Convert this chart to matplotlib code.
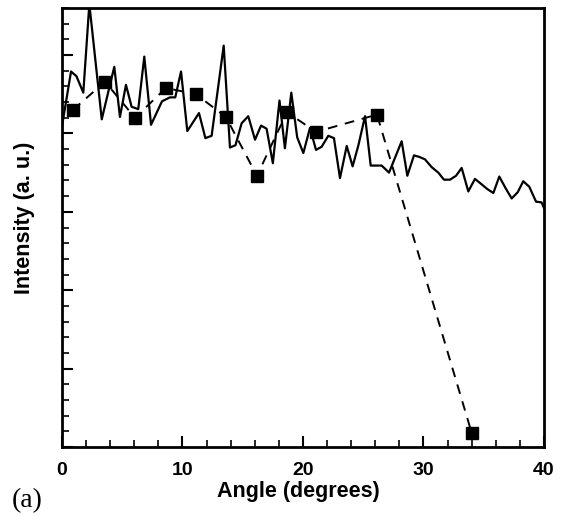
import matplotlib.pyplot as plt
from matplotlib.ticker import MultipleLocator, NullFormatter

# measured profile (solid line)
angle = [0, 0.75, 1.2, 1.77, 2.27, 3.3, 4.34, 4.81, 5.31, 5.78, 6.33, 6.83, 7.39,
         8.3, 8.96, 9.4, 9.88, 10.4, 11.37, 11.9, 12.42, 13.42, 13.94, 14.4, 14.91,
         15.46, 16.02, 16.52, 16.98, 17.5, 18.05, 18.5, 19.03, 19.52, 20.03, 20.58,
         21.08, 21.55, 22.1, 22.57, 23.07, 23.63, 24.12, 24.6, 25.15, 25.62, 26.53,
         27.14, 28.19, 28.66, 29.21, 29.66, 30.12, 30.68, 31.23, 31.7, 32.2, 32.7,
         33.17, 33.72, 34.27, 34.83, 35.3, 35.8, 36.29, 36.82, 37.32, 37.82, 38.28,
         38.78, 39.34, 39.8, 40]
intensity = [4.09, 4.79, 4.73, 4.52, 5.65, 4.18, 4.85, 4.21, 4.62, 4.34, 4.31, 4.98, 4.11,
             4.41, 4.46, 4.46, 4.79, 4.03, 4.26, 3.94, 3.97, 5.12, 3.82, 3.85, 4.13,
             4.22, 3.92, 4.10, 4.06, 3.62, 4.42, 3.81, 4.52, 3.95, 3.75, 4.07,
             3.79, 3.83, 3.97, 3.94, 3.43, 3.84, 3.58, 3.85, 4.22, 3.59, 3.59,
             3.50, 3.90, 3.46, 3.72, 3.70, 3.67, 3.57, 3.50, 3.41, 3.41, 3.46,
             3.56, 3.26, 3.42, 3.35, 3.29, 3.24, 3.45, 3.30, 3.17, 3.25, 3.39,
             3.32, 3.13, 3.12, 3.05]

# model points (squares, dashed)
angle_sq = [0.91, 3.57, 6.06, 8.63, 11.12, 13.6, 16.18, 18.67, 21.08, 26.14, 34.0]
intensity_sq = [4.30, 4.66, 4.20, 4.58, 4.50, 4.21, 3.46, 4.27, 4.02, 4.24, 0.18]

fig = plt.figure(figsize=(5.65, 5.16), dpi=100)
ax = fig.add_axes([0.1097, 0.1337, 0.8531, 0.8508])

ax.plot(angle, intensity, color='black', lw=1.6)
ax.plot(angle_sq, intensity_sq, color='black', lw=1.4, ls=(0, (5, 4)),
        marker='s', ms=9, mfc='black', mec='black')

ax.set_xlim(0, 40)
ax.set_ylim(0, 5.6)
ax.xaxis.set_major_locator(MultipleLocator(10))
ax.xaxis.set_minor_locator(MultipleLocator(2))
ax.yaxis.set_major_locator(MultipleLocator(1))
ax.yaxis.set_minor_locator(MultipleLocator(0.2))
ax.yaxis.set_major_formatter(NullFormatter())

ax.tick_params(axis='both', which='both', direction='in', top=False, right=False)
ax.tick_params(axis='x', which='major', length=8, width=1.5, pad=11)
ax.tick_params(axis='x', which='minor', length=5, width=1.2)
ax.tick_params(axis='y', which='major', length=8, width=1.5)
ax.tick_params(axis='y', which='minor', length=5, width=1.2)
for lbl in ax.get_xticklabels():
    lbl.set_fontfamily('Liberation Sans')
    lbl.set_fontweight('bold')
    lbl.set_fontsize(14)

for s in ax.spines.values():
    s.set_linewidth(2)

ax.set_xlabel('Angle (degrees)', fontfamily='Liberation Sans', fontweight='bold',
              fontsize=15.5)
ax.xaxis.set_label_coords(0.49, -0.078)
ax.set_ylabel('Intensity (a. u.)', fontfamily='Liberation Sans', fontweight='bold',
              fontsize=15.5)
ax.yaxis.set_label_coords(-0.056, 0.523)
fig.text(12 / 565, 9 / 516, '(a)', fontfamily='Liberation Serif', fontsize=20,
         va='baseline')

fig.savefig('out.png', dpi=100)
